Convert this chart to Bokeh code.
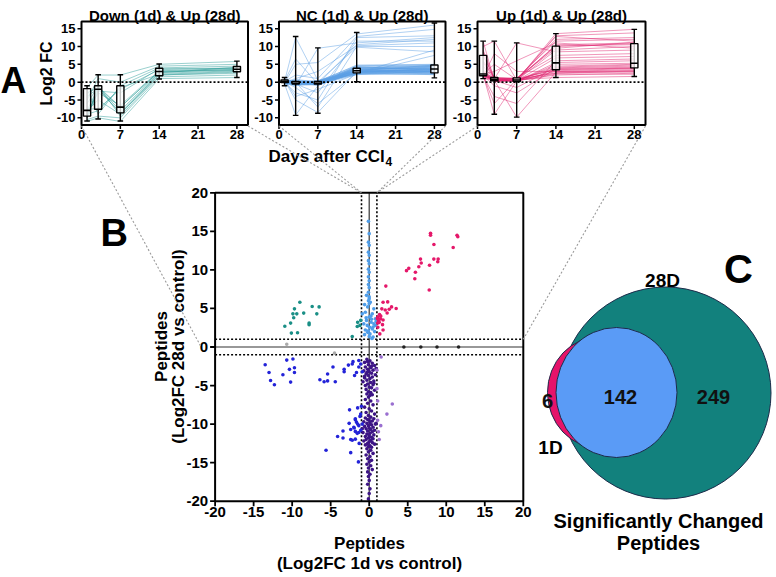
import numpy as np
from bokeh.plotting import figure
from bokeh.models import Range1d
from bokeh.core.properties import value
from bokeh.embed import file_html
from bokeh.resources import INLINE

FONT = "Liberation Sans"

# ---------------- data ----------------
DAYS = [1, 3, 7, 14, 28]
A_TITLES = ["Down (1d) & Up (28d)", "NC (1d) & Up (28d)", "Up (1d) & Up (28d)"]
A_YTICKS = [-10, -5, 0, 5, 10, 15]
A_XTICKS = [0, 7, 14, 21, 28]

traj_down_up = [
    [-8, -1.5, -7, 3, 3.5], [-9.5, -2, -8.5, 2.5, 3.2], [-2, -9, -1, 4, 4.5],
    [-11, -10, -11, 1, 1.3], [-1.5, 2, 2, 5, 5.8], [-7.5, -7.5, -2, 3.5, 4],
    [-10, -1, -9.5, 2, 2.5], [-3, -1.5, -8, 2.8, 3.6], [-8.5, -3, -6.5, 3.2, 3.8],
    [-9, -8, -1.5, 2.2, 3], [-5, 1, 0, 4.5, 5], [-10.5, -9.5, -10, 1.5, 2],
    [-6, -1.2, -7, 3, 3.3], [-8, -5, -9, 2.6, 4.2], [-9.8, -2.5, -3, 3.8, 3.9],
    [-4, -1.8, -8.8, 2, 2.8],
]
traj_nc_up = [
    [0.2, -0.3, -0.2, 3.0, 3.2], [0.5, 0.1, -0.4, 2.6, 2.8], [-0.3, -0.5, 0.2, 3.5, 3.9],
    [0.0, -0.2, -0.6, 4.2, 4.6], [0.7, 0.3, 0.1, 2.2, 2.4], [-0.6, -0.8, -0.3, 3.8, 4.1],
    [0.3, -0.1, -0.9, 2.9, 3.4], [0.1, 0.4, 0.3, 4.6, 4.9], [-0.1, -0.6, -0.2, 3.3, 2.9],
    [0.4, -0.3, -0.5, 2.5, 3.6], [0.8, 0.0, -0.1, 3.1, 3.0], [-0.4, -0.4, 0.0, 4.0, 4.4],
    [0.2, 0.2, -0.4, 2.7, 2.6], [0.0, -0.9, -0.7, 3.6, 3.7], [0.6, -0.2, 0.4, 2.4, 2.2],
    [-0.2, 0.1, -0.3, 3.2, 4.8], [0.3, -0.6, -0.1, 4.4, 3.3], [0.1, -0.1, -0.8, 2.8, 2.7],
    [-0.5, 0.3, 0.2, 3.7, 4.2], [0.4, -0.4, -0.2, 3.0, 3.5], [0.2, 0.0, -0.5, 2.3, 3.1],
    [-0.1, -0.3, 0.1, 4.8, 5.0], [0.5, -0.7, -0.4, 3.4, 2.5], [0.0, 0.2, -0.6, 2.6, 4.0],
    [0.3, -0.2, 0.0, 3.9, 3.8], [-0.3, -0.5, -0.3, 2.9, 2.3], [0.7, 0.1, -0.2, 3.3, 4.5],
    [0.1, -0.4, -0.7, 2.1, 3.0], [-0.2, -0.1, 0.3, 4.1, 3.6], [0.4, 0.4, -0.1, 3.6, 2.9],
    [0.2, -0.8, -0.4, 2.8, 4.3], [0.0, -0.2, -0.2, 3.2, 3.2], [-0.4, 0.0, -0.5, 4.5, 4.7],
    [0.6, -0.3, 0.1, 2.5, 2.1], [0.1, -0.6, -0.3, 3.5, 3.4], [-0.1, 0.2, -0.1, 2.7, 3.8],
    [0.2, 12.5, 0.5, 3.0, 3.5], [0.3, 6.5, -0.5, 10.5, 12.0], [-0.5, -9.2, -1.0, 4.0, 4.5],
    [0.5, -5.0, -8.5, 3.0, 3.0], [0.0, -1.0, 9.5, 11.0, 12.5], [0.1, 0.0, -7.0, 10.0, 10.0],
    [-0.2, 5.0, 5.5, 13.5, 16.0], [0.0, -3.0, -5.0, 12.5, 13.0], [0.4, -0.5, -3.0, 11.5, 11.5],
    [-0.3, 0.8, 0.0, 9.8, 8.5], [0.1, -1.5, -6.0, 2.5, 9.0], [0.2, 2.0, 1.0, 12.8, 14.8],
    [0.6, -4.0, -2.0, 2.3, 7.5], [0.0, 1.0, 3.0, 10.2, 11.0],
]
traj_up_up = [
    [2.0, 0.5, 0.3, 3.0, 3.5], [2.2, 0.8, 0.6, 4.0, 4.5], [1.5, 1.0, 0.8, 2.5, 3.0],
    [2.5, 0.3, 0.2, 5.0, 5.3], [1.8, 1.2, 1.0, 3.5, 4.0], [2.4, 0.6, 0.5, 9.0, 10.0],
    [3.0, 0.9, 0.4, 10.5, 11.0], [7.5, 1.0, 0.8, 12.0, 12.5], [8.5, 0.7, 0.6, 13.0, 13.8],
    [10.0, 11.5, 0.5, 13.6, 14.8], [11.5, 0.4, 1.1, 11.5, 12.0], [2.1, -9.0, 0.3, 3.2, 3.8],
    [1.9, 0.5, -9.8, 2.8, 3.3], [2.3, 5.0, 0.7, 1.3, 1.6], [1.2, 0.9, 11.0, 8.5, 9.0],
    [6.0, 1.3, 0.9, 10.0, 10.8], [2.6, 0.2, 0.4, 4.5, 5.0], [1.7, -4.0, -6.0, 6.0, 6.5],
    [2.8, 1.1, 1.2, 7.5, 8.0], [1.0, 0.6, 0.5, 2.0, 2.5], [2.2, 3.0, 6.0, 11.0, 9.5],
    [4.5, 0.8, 0.2, 5.5, 6.0], [2.0, -1.0, -3.0, 3.8, 4.2], [1.6, 0.4, 0.6, 12.8, 11.5],
    [2.7, 0.7, 0.3, 2.3, 2.2], [5.5, 1.0, 1.0, 9.5, 11.2], [2.3, 0.5, -1.5, 4.2, 4.8],
    [1.4, 8.0, 3.0, 3.0, 2.8], [9.0, 1.2, 0.9, 10.2, 10.5], [2.0, 0.6, 0.4, 6.8, 7.2],
    [1.8, -6.0, 0.8, 2.6, 3.1], [3.5, 0.3, 0.7, 3.6, 3.9],
]

# box statistics, per day
box_down_up = dict(lo=[-10.9, -10.3, -10.9, 0.9, 1.3], q1=[-9.5, -7.6, -8.6, 1.8, 2.9],
                   med=[-7.9, -2.0, -7.0, 3.0, 3.6], q3=[-1.8, -1.0, -1.0, 3.9, 4.4],
                   hi=[-1.0, 2.1, 2.1, 5.1, 5.9])
box_nc_up = dict(lo=[-1.0, -9.3, -8.7, 0.1, 1.2], q1=[-0.1, -0.5, -0.5, 2.6, 2.6],
                 med=[0.2, -0.3, -0.3, 3.2, 3.7], q3=[0.6, 0.2, 0.2, 3.9, 4.8],
                 hi=[1.3, 12.8, 9.6, 13.9, 16.6])
box_up_up = dict(lo=[1.0, -9.0, -9.8, 1.3, 1.6], q1=[1.8, 0.4, 0.2, 3.5, 4.0],
                 med=[2.3, 0.8, 0.6, 5.4, 5.3], q3=[7.5, 1.3, 1.2, 10.1, 10.8],
                 hi=[11.5, 11.5, 11.0, 13.6, 14.8])

# scatter (Log2FC 1d, Log2FC 28d)
teal_x = [-9.0, -9.7, -8.5, -7.4, -6.5, -6.8, -9.9, -9.4, -9.8, -7.8, -7.8, -10.95, -10.2, -10.1, -9.3,
          -1.5, -1.2, -2.2, -1.1, -1.55]
teal_y = [5.8, 4.95, 4.4, 5.25, 5.2, 4.3, 4.3, 4.3, 3.8, 3.1, 2.9, 2.7, 3.1, 1.8, 1.85,
          3.2, 2.8, 1.35, 3.45, 2.65]
lblue_x = [-0.1, 0.0, -0.1, 0.0, -0.1, 0.0, -0.1, 0.0, -0.1, 0.0, -0.1, 0.0, -0.1, 0.0, -0.1, 0.0, -0.1, 0.0,
           -0.35, 0.0, -0.2, 0.6, -0.5, 0.4, 0.0, 0.8, -0.35, 0.25, 0.6, -0.25, 0.05, 0.4, -0.2, 0.1, 0.0, 0.5,
           -0.7, 0.8, -0.9, 0.3, -0.5, 0.7, -0.6, 0.2, 0.9, -0.1, 0.5, -0.4, 0.15, -0.6, 0.35]
lblue_y = [16.3, 14.7, 13.6, 13.2, 12.3, 11.9, 11.2, 10.8, 10.1, 9.7, 9.1, 8.6, 8.1, 7.7, 7.1, 6.5, 6.0, 5.6,
           6.7, 6.25, 5.2, 4.95, 4.5, 4.3, 3.9, 3.65, 3.45, 3.2, 3.0, 2.8, 2.55, 2.35, 1.9, 1.7, 1.35, 1.3,
           3.0, 2.8, 4.3, 3.6, 2.2, 2.0, 1.6, 4.0, 3.3, 2.1, 2.6, 3.8, 5.8, 5.5, 1.1]
pink_x = [7.96, 7.96, 11.4, 11.5, 8.4, 10.9, 6.66, 6.75, 5.14, 4.84, 6.44, 7.83, 8.39, 8.95, 8.9, 6.0, 5.92,
          7.79, 2.16, 1.8, 2.4, 2.08, 2.6, 2.9, 3.5, 1.64, 2.33, 1.34, 1.12, 1.47, 1.8, 1.2, 1.73, 1.8, 1.12,
          1.38, 1.1, 1.3, 1.5, 1.05]
pink_y = [14.76, 14.5, 14.5, 14.3, 13.3, 12.9, 11.4, 10.9, 10.2, 9.9, 10.4, 10.6, 11.4, 11.4, 11.05, 9.7, 8.85,
          7.4, 7.9, 5.8, 5.85, 4.8, 4.9, 5.2, 5.0, 4.95, 4.4, 4.2, 3.9, 3.65, 3.5, 3.4, 2.9, 2.2, 2.55,
          1.7, 3.1, 3.2, 4.0, 3.7]
blue_x = [-13.5, -13.0, -12.8, -12.3, -10.7, -9.9, -11.2, -10.35, -9.7, -9.7, -10.2, -6.4, -5.85, -5.4, -4.4,
          -5.4, -4.7, -3.25, -3.25, -2.7, -2.2, -1.9, -1.65, -2.55, -1.5, -1.8, -1.65, -2.4, -1.95, -3.4,
          -4.1, -3.4, -2.4, -1.8, -5.6, -2.4, -2.1, -1.35, -1.1, -1.35, -0.9, -1.8, -1.35, -2.0, -0.9,
          -1.8, -2.2, -1.35, -1.4, -1.1, -1.0, -1.55, -1.2, -1.5, -1.1, -2.6, -1.3]
blue_y = [-2.3, -3.3, -4.35, -4.9, -1.7, -1.55, -3.6, -2.9, -2.7, -3.3, -4.55, -4.25, -4.5, -4.4, -4.5,
          -3.5, -2.6, -2.9, -3.2, -2.35, -2.2, -3.7, -3.3, -8.15, -7.9, -9.45, -9.75, -10.7, -10.5, -10.9,
          -11.6, -11.8, -12.0, -11.95, -13.4, -13.7, -1.9, -1.75, -2.2, -2.6, -3.2, -9.3, -10.2, -10.4, -10.0,
          -10.95, -12.1, -11.1, -14.9, -8.7, -7.7, -11.2, -9.0, -10.0, -10.8, -9.9, -12.5]
dpurple_x = [-0.3, 0.1, -0.6, 0.4, -0.1, 0.7, -0.5, 0.2, -0.2, 0.5, -0.7, 0.0, 0.3, -0.4, 0.8, -0.1, 0.4,
             -0.6, 0.1, -0.3, 0.6, -0.8, 0.2, -0.2, 0.5, -0.5, 0.0, 0.3, -0.4, 0.7, -0.1, 0.2, -0.6, 0.9,
             -0.2, 0.3, -0.3, 0.6,
             -0.3, 0.1, -0.1, 0.4, -0.5, 0.2, -0.2, 0.5, -0.6, 0.0, 0.3, -0.4, 0.7, -0.1,
             0.2, -0.5, 0.6, -0.2, 0.0, 0.4, -0.7, 0.1, -0.3, 0.8, 0.3, -0.1, -0.6, 0.5, 0.0, -0.4, 0.2,
             0.7, -0.2, 0.4, -0.8, 0.1, -0.3, 0.6, 0.0, -0.5, 0.3, -0.1, 0.5, -0.4, 0.2, -0.7, 0.0, 0.4,
             -0.2, 0.7, -0.5, 0.1, -0.1, 0.3, 0.9, -0.9,
             -0.3, 0.2, -0.1, 0.5, -0.4, 0.1, -0.2, 0.3, 0.0, -0.3, 0.2, -0.1, 0.4, -0.2, 0.1, -0.1,
             0.0, -0.2, 0.1, 0.0, -0.1]
dpurple_y = [-1.6, -1.8, -2.0, -2.1, -2.3, -2.4, -2.6, -2.7, -2.9, -3.0, -3.1, -3.2, -3.4, -3.5, -3.6, -3.7,
             -3.9, -4.0, -4.1, -4.3, -4.4, -4.5, -4.6, -4.8, -4.9, -5.0, -5.2, -5.3, -5.5, -5.6, -5.8, -5.9,
             -3.8, -2.8, -1.9, -2.5, -3.3, -4.7,
             -6.1, -6.3, -6.5, -6.2, -6.8, -7.0, -7.3, -7.5, -7.8, -8.0, -8.3, -8.5, -8.7, -8.9,
             -9.1, -9.2, -9.3, -9.4, -9.5, -9.6, -9.7, -9.8, -9.9, -10.0, -10.1, -10.2, -10.3, -10.4, -10.5,
             -10.6, -10.7, -10.8, -10.9, -11.0, -11.1, -11.2, -11.3, -11.4, -11.5, -11.6, -11.7, -11.8, -11.9,
             -12.0, -12.1, -12.2, -12.3, -12.4, -12.5, -12.6, -12.7, -12.8, -12.9, -13.0, -9.9, -10.6,
             -13.2, -13.4, -13.6, -13.8, -14.0, -14.2, -14.5, -14.7, -14.9, -15.2, -15.4, -15.7, -15.9, -16.2,
             -16.5, -16.8, -17.3, -17.8, -18.4, -19.0, -19.7]
lpurple_x = [3.0, 2.3, 1.5, 1.55, 1.0, 1.1, 1.2, 1.0, 1.3, 1.1]
lpurple_y = [-7.4, -8.7, -10.2, -1.3, -5.4, -9.5, -11.0, -3.0, -12.0, -7.0]
black_x = [4.5, 6.7, 8.8, 11.6]
black_y = [0, 0, 0, 0]
gray_x = [-10.7, -4.5]
gray_y = [0.35, -0.8]
B_TICKS = [-20, -15, -10, -5, 0, 5, 10, 15, 20]

VENN_COUNTS = ["6", "142", "249"]
VENN_SETS = ["1D", "28D"]

# ---------------- colours ----------------
LINE_COLS = ["#2a9d98", "#5b9fe3", "#e0246f"]
C_TEAL, C_LBLUE, C_PINK = "#1a8f86", "#4f9de8", "#e5186a"
C_BLUE, C_DPURPLE, C_LPURPLE = "#2323d8", "#3c1485", "#9a6fd0"
V_TEAL, V_BLUE, V_PINK = "#12817d", "#5a9bf6", "#e5136a"

# ---------------- canvas (coordinates = page pixels) ----------------
W, H = 776, 577
p = figure(width=W, height=H, x_range=Range1d(0, W), y_range=Range1d(H, 0),
           output_backend="svg", toolbar_location=None, min_border=0,
           x_axis_location=None, y_axis_location=None)
p.grid.visible = False
p.outline_line_color = None

TXT = dict(text_font=value(FONT), text_font_style="bold", text_color="black")


def panel(left, right, top, bottom, xr, yr):
    return p.subplot(x_source=Range1d(*xr), y_source=Range1d(*yr),
                     x_target=Range1d(left, right), y_target=Range1d(bottom, top))


# ---------------- panel A ----------------
A_X, A_Y = (0, 30), (-12, 17)
A_FRAMES = [(81, 247.5), (278.5, 445), (477, 645)]
A_TOP, A_BOT = 21, 124.5
trajs = [traj_down_up, traj_nc_up, traj_up_up]
boxes = [box_down_up, box_nc_up, box_up_up]

for i, (l, r) in enumerate(A_FRAMES):
    s = panel(l, r, A_TOP, A_BOT, A_X, A_Y)
    kx = 4 * (A_X[1] - A_X[0]) / (r - l)
    ky = 4 * (A_Y[1] - A_Y[0]) / (A_BOT - A_TOP)
    tr = trajs[i]
    s.multi_line(xs=[DAYS] * len(tr), ys=tr, line_color=LINE_COLS[i], line_alpha=0.6, line_width=0.8)
    s.segment(x0=[A_X[0]], y0=[0], x1=[A_X[1]], y1=[0], line_color="black", line_width=1.6, line_dash="2 2")
    b = boxes[i]
    bw, cw = 0.65, 0.5
    s.segment(x0=DAYS, y0=b["lo"], x1=DAYS, y1=b["hi"], line_color="black", line_width=1.4)
    s.segment(x0=[d - cw for d in DAYS], y0=b["lo"], x1=[d + cw for d in DAYS], y1=b["lo"],
              line_color="black", line_width=1.4)
    s.segment(x0=[d - cw for d in DAYS], y0=b["hi"], x1=[d + cw for d in DAYS], y1=b["hi"],
              line_color="black", line_width=1.4)
    s.quad(left=[d - bw for d in DAYS], right=[d + bw for d in DAYS], bottom=b["q1"], top=b["q3"],
           fill_color="white", fill_alpha=0.75, line_color="black", line_width=1.4)
    s.segment(x0=[d - bw for d in DAYS], y0=b["med"], x1=[d + bw for d in DAYS], y1=b["med"],
              line_color="black", line_width=1.6)
    s.quad(left=[A_X[0]], right=[A_X[1]], bottom=[A_Y[0]], top=[A_Y[1]], fill_color=None,
           line_color="black", line_width=2)
    s.segment(x0=[A_X[0] - kx] * len(A_YTICKS), y0=A_YTICKS, x1=[A_X[0]] * len(A_YTICKS), y1=A_YTICKS,
              line_color="black", line_width=1.5)
    s.segment(x0=A_XTICKS, y0=[A_Y[0]] * len(A_XTICKS), x1=A_XTICKS, y1=[A_Y[0] - ky] * len(A_XTICKS),
              line_color="black", line_width=1.5)
    s.text(x=[A_X[0]] * len(A_YTICKS), y=A_YTICKS, text=[str(v) for v in A_YTICKS], x_offset=-6,
           text_align="right", text_baseline="middle", text_font_size="13px", **TXT)
    s.text(x=A_XTICKS, y=[A_Y[0]] * len(A_XTICKS), text=[str(v) for v in A_XTICKS], y_offset=5,
           text_align="center", text_baseline="top", text_font_size="13px", **TXT)
    s.text(x=[(A_X[0] + A_X[1]) / 2], y=[A_Y[1]], text=[A_TITLES[i]], y_offset=-6,
           text_align="center", text_baseline="alphabetic", text_font_size="15px", **TXT)

p.text(x=[46], y=[73], text=["Log2 FC"], angle=np.pi / 2, text_align="center", text_baseline="middle",
       text_font_size="16px", **TXT)
p.text(x=[268], y=[156], text=["Days after CCl"], text_align="left", text_baseline="alphabetic",
       text_font_size="17px", **TXT)
p.text(x=[385], y=[161], text=["4"], text_align="left", text_baseline="alphabetic",
       text_font_size="12px", **TXT)
p.text(x=[0], y=[80], text=["A"], text_align="left", text_baseline="middle", text_font_size="36px", **TXT)

# ---------------- panel B ----------------
B_L, B_R, B_T, B_B = 214.6, 522.8, 192.3, 500.7
B_R_ = (-20, 20)
sb = panel(B_L, B_R, B_T, B_B, B_R_, B_R_)
kbx = 5 * 40 / (B_R - B_L)
kby = 5 * 40 / (B_B - B_T)
sb.segment(x0=[-1, 1, -20, -20], y0=[-20, -20, -1, 1], x1=[-1, 1, 20, 20], y1=[20, 20, -1, 1],
           line_color="black", line_width=1.6, line_dash="2 2")
sb.segment(x0=[0, -20], y0=[-20, 0], x1=[0, 20], y1=[20, 0], line_color="#333333", line_width=1.2)
SZ = 3.6
sb.scatter(x=dpurple_x, y=dpurple_y, size=SZ, color=C_DPURPLE, line_width=0)
sb.scatter(x=blue_x, y=blue_y, size=SZ, color=C_BLUE, line_width=0)
sb.scatter(x=lpurple_x, y=lpurple_y, size=SZ, color=C_LPURPLE, line_width=0)
sb.scatter(x=teal_x, y=teal_y, size=SZ, color=C_TEAL, line_width=0)
sb.scatter(x=lblue_x, y=lblue_y, size=SZ, color=C_LBLUE, line_width=0)
sb.scatter(x=pink_x, y=pink_y, size=SZ, color=C_PINK, line_width=0)
sb.scatter(x=black_x, y=black_y, size=SZ, color="#222222", line_width=0)
sb.scatter(x=gray_x, y=gray_y, size=SZ, color="#aaaaaa", line_width=0)
sb.quad(left=[-20], right=[20], bottom=[-20], top=[20], fill_color=None, line_color="black", line_width=2)
nt = len(B_TICKS)
sb.segment(x0=[-20 - kbx] * nt, y0=B_TICKS, x1=[-20] * nt, y1=B_TICKS, line_color="black", line_width=1.8)
sb.segment(x0=B_TICKS, y0=[-20] * nt, x1=B_TICKS, y1=[-20 - kby] * nt, line_color="black", line_width=1.8)
sb.text(x=[-20] * nt, y=B_TICKS, text=[str(v) for v in B_TICKS], x_offset=-7, text_align="right",
        text_baseline="middle", text_font_size="15px", **TXT)
sb.text(x=B_TICKS, y=[-20] * nt, text=[str(v) for v in B_TICKS], y_offset=6, text_align="center",
        text_baseline="top", text_font_size="15px", **TXT)
p.text(x=[369, 369], y=[543, 563], text=["Peptides", "(Log2FC 1d vs control)"], text_align="center",
       text_baseline="alphabetic", text_font_size="17px", **TXT)
p.text(x=[161, 178], y=[346, 346], text=["Peptides", "(Log2FC 28d vs control)"], angle=np.pi / 2,
       text_align="center", text_baseline="alphabetic", text_font_size="17px", **TXT)
p.text(x=[100], y=[232], text=["B"], text_align="left", text_baseline="middle", text_font_size="38px", **TXT)


# connecting dotted lines: panel A corners -> regions of panel B
def bx(v):
    return B_L + (v - B_R_[0]) * (B_R - B_L) / 40


def by(v):
    return B_B - (v - B_R_[0]) * (B_B - B_T) / 40


cx0 = [A_FRAMES[0][0], A_FRAMES[0][1], A_FRAMES[1][0], A_FRAMES[1][1], A_FRAMES[2][0], A_FRAMES[2][1]]
cy0 = [A_BOT + 1] * 6
cx1 = [bx(-20) - 14, bx(-1), bx(-1), bx(1), bx(1), bx(20)]
cy1 = [by(0), by(20), by(20), by(20), by(20), by(1)]
p.segment(x0=cx0, y0=cy0, x1=cx1, y1=cy1, line_color="#9a9a9a", line_width=1.1, line_dash="2 2")

# ---------------- panel C (Venn) ----------------
p.ellipse(x=[665], y=[392.5], width=[211], height=[212], fill_color=V_TEAL, line_color="#1c2b4a", line_width=1)
p.ellipse(x=[600], y=[392], width=[106], height=[112], fill_color=V_PINK, line_color="#1c2b4a", line_width=1)
p.ellipse(x=[616], y=[392], width=[121], height=[130], fill_color=V_BLUE, line_color="#1c2b4a", line_width=1)
p.text(x=[547, 620, 713], y=[400, 396, 396], text=VENN_COUNTS, text_align="center", text_baseline="middle",
       text_font_size="20px", text_font=value(FONT), text_font_style="bold", text_color="#111111")
p.text(x=[550, 662], y=[447, 280], text=VENN_SETS, text_align="center", text_baseline="middle",
       text_font_size="19px", **TXT)
p.text(x=[658, 658], y=[520, 542], text=["Significantly Changed", "Peptides"], text_align="center",
       text_baseline="alphabetic", text_font_size="20px", **TXT)
p.text(x=[738], y=[268], text=["C"], text_align="center", text_baseline="middle", text_font_size="40px", **TXT)

open("out.html", "w").write(file_html(p, INLINE))
